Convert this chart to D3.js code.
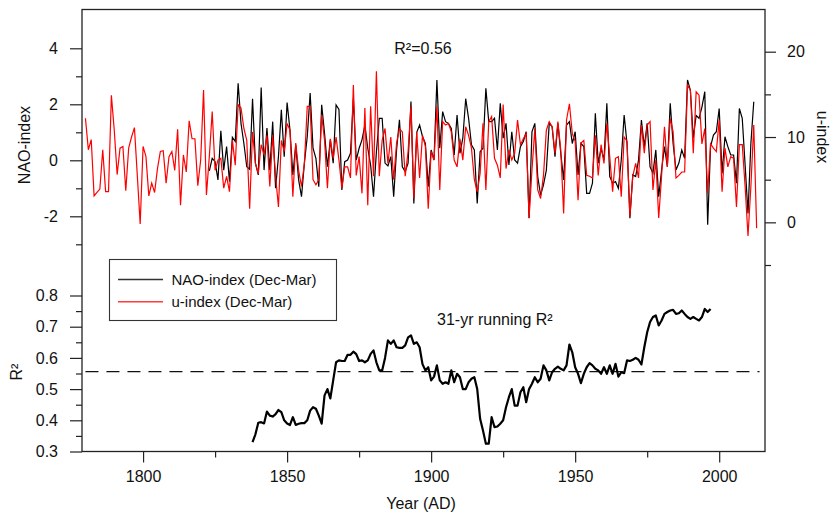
<!DOCTYPE html>
<html>
<head>
<meta charset="utf-8">
<script src="https://cdn.jsdelivr.net/npm/d3@7"></script>
<style>
  body { margin: 0; background: #fff; }
  svg text { font-family: "Liberation Sans", Arial, sans-serif; fill: #111; }
</style>
</head>
<body>
<div id="viz"></div>
<script>
// u-index (Dec-Mar), one value per year from 1780
const uStart = 1780;
const uValues = [
  12.2, 8.5, 9.7, 3.1, 3.5, 3.9, 8.5, 3.6, 3.6, 14.9,
  10.8, 5.6, 8.7, 8.9, 3.7, 8.7, 10.0, 11.1, 5.5, -0.2,
  8.9, 7.7, 3.1, 4.6, 3.5, 6.3, 8.3, 8.4, 4.6, 7.7,
  8.3, 6.1, 10.9, 2.0, 7.9, 5.9, 11.9, 9.8, 9.8, 4.3,
  7.3, 15.5, 3.2, 7.7, 13.0, 6.1, 7.3, 7.5, 4.0, 5.4,
  3.6, 9.6, 6.7, 13.8, 13.4, 11.0, 9.6, 1.6, 10.6, 6.9,
  5.7, 9.1, 7.9, 10.2, 4.2, 10.2, 5.4, 1.8, 9.6, 8.3,
  11.6, 10.8, 3.0, 9.3, 6.1, 4.2, 6.9, 13.6, 13.6, 5.0,
  4.4, 5.0, 12.6, 9.6, 4.0, 9.8, 7.5, 10.0, 7.3, 4.0,
  6.5, 6.5, 5.2, 16.1, 5.5, 7.7, 3.4, 13.4, 2.0, 13.6,
  5.4, 17.7, 5.4, 9.6, 11.0, 6.9, 10.0, 5.0, 9.3, 11.0,
  10.6, 5.4, 8.3, 13.6, 2.8, 10.6, 5.2, 10.2, 8.9, 1.6,
  8.3, 7.3, 13.6, 3.8, 11.8, 11.4, 11.6, 10.6, 7.3, 6.5,
  9.8, 7.3, 11.2, 10.2, 8.7, 5.0, 3.6, 5.7, 11.6, 3.8,
  11.8, 12.4, 7.5, 6.7, 5.2, 13.8, 6.3, 8.5, 7.3, 8.1,
  12.0, 9.1, 9.8, 10.4, 0.5, 6.1, 11.0, 3.8, 2.8, 5.5,
  10.8, 11.8, 11.2, 8.1, 11.8, 8.5, 1.05, 12.0, 13.9, 10.4,
  9.5, 2.6, 9.3, 9.6, 5.5, 5.4, 5.2, 10.2, 5.5, 9.1,
  6.9, 11.6, 7.7, 3.6, 7.5, 7.7, 3.0, 10.0, 9.5, 0.7,
  5.4, 6.9, 5.2, 11.4, 8.1, 11.4, 11.8, 3.8, 7.3, 0.5,
  5.4, 11.2, 6.5, 12.2, 10.6, 5.2, 5.5, 5.9, 5.9, 16.1,
  15.5, 8.1, 15.3, 14.9, 9.2, 11.0, 3.4, 9.2, 8.7, 8.3,
  12.0, 3.6, 8.7, 6.5, 7.7, 7.5, 1.8, 9.1, 9.1, 4.2,
  -1.6, 4.2, 11.4, -0.7
];

// NAO-index (Dec-Mar), one value per year from 1823
const naoStart = 1823;
const naoValues = [
  -0.38, 0.07, -0.05, -0.7, 1.05, -0.35, 0.49, -0.76, 0.82, 0.67,
  2.75, 1.32, 0.6, -0.23, -0.32, 2.2, -0.1, -0.52, 2.6, -0.35,
  1.15, -0.35, 1.38, -1.0, 0.13, 1.8, 0.13, 2.06, 1.08, -0.52,
  0.55, -0.7, -1.3, -0.1, 0.85, 2.4, 0.43, 0.07, -0.94, 1.98,
  0.96, -0.23, 0.73, -0.1, 1.98, 1.82, -1.06, -0.05, 0.01, 0.25,
  2.2, 0.01, 0.43, 0.73, 1.26, 0.43, -0.17, -1.3, 0.3, 1.5,
  1.5, -0.1, -0.2, 0.13, -1.3, 0.37, 1.45, -0.23, -0.4, -0.1,
  2.1, -1.54, 1.0, 1.26, 0.85, 0.6, -0.94, 0.37, 0.01, 2.87,
  0.43, 1.74, 1.38, 1.32, 1.14, 0.19, 1.62, 0.25, 0.79, 2.2,
  1.5, 0.55, 0.37, -1.54, 0.31, 0.43, 2.57, 1.38, 1.38, 1.5,
  0.37, 2.04, 0.79, 1.32, -0.17, 1.02, 0.01, -0.1, 0.49, 0.67,
  1.02, -2.07, 1.02, 1.32, -0.58, -1.24, -0.88, -0.35, 1.32, 1.2,
  0.13, 1.32, 0.25, -0.7, 1.26, 1.38, 0.6, 1.02, -0.52, 0.6,
  0.49, -1.18, -1.18, -0.82, 1.68, -0.1, 0.43, 0.01, 2.04, -0.58,
  -0.82, -0.76, -1.0, 0.01, 1.62, 0.6, -2.07, -0.52, -0.58, 0.01,
  1.44, 0.49, 1.32, -0.23, -0.46, 0.37, -1.3, -0.35, 0.49, -0.23,
  2.04, 0.6, -0.35, -0.1, 0.37, 0.07, 2.87, 2.5, 0.8, 1.6,
  1.5, 1.9, 2.45, -2.3, 0.49, 0.9, 1.02, 1.85, -0.47, 0.84,
  0.49, 0.19, 0.19, -0.82, 1.85, 1.5, -0.17, -1.9, 0.6, 2.09
];

// 31-yr running R2, centred years from 1838
const r2Start = 1838;
const r2Values = [
  0.33, 0.355, 0.392, 0.394, 0.39, 0.428, 0.415, 0.412, 0.42, 0.433,
  0.426, 0.40, 0.39, 0.385, 0.41, 0.385, 0.389, 0.391, 0.391, 0.40,
  0.431, 0.442, 0.437, 0.415, 0.389, 0.48, 0.50, 0.47, 0.528, 0.586,
  0.592, 0.59, 0.59, 0.61, 0.61, 0.62, 0.612, 0.59, 0.592, 0.586,
  0.592, 0.613, 0.624, 0.586, 0.56, 0.56, 0.60, 0.656, 0.645, 0.656,
  0.634, 0.632, 0.632, 0.64, 0.666, 0.672, 0.645, 0.65, 0.634, 0.58,
  0.56, 0.57, 0.528, 0.54, 0.576, 0.528, 0.517, 0.522, 0.517, 0.56,
  0.522, 0.549, 0.538, 0.50, 0.50, 0.522, 0.533, 0.538, 0.50, 0.405,
  0.367, 0.325, 0.325, 0.41, 0.378, 0.38, 0.389, 0.40, 0.442, 0.474,
  0.50, 0.447, 0.447, 0.49, 0.506, 0.458, 0.50, 0.517, 0.538, 0.522,
  0.533, 0.576, 0.56, 0.528, 0.554, 0.565, 0.572, 0.565, 0.56, 0.576,
  0.643, 0.618, 0.57, 0.549, 0.519, 0.549, 0.57, 0.583, 0.576, 0.565,
  0.56, 0.549, 0.57, 0.549, 0.576, 0.549, 0.581, 0.54, 0.554, 0.551,
  0.592, 0.59, 0.594, 0.60, 0.594, 0.579, 0.634, 0.682, 0.715, 0.731,
  0.736, 0.704, 0.72, 0.741, 0.747, 0.752, 0.754, 0.741, 0.743, 0.752,
  0.741, 0.731, 0.725, 0.731, 0.725, 0.72, 0.731, 0.757, 0.747, 0.757
];
const r2Whole = 0.556;

// tick labels
const yearTicks = [1800, 1850, 1900, 1950, 2000];
const yearMinor = [1825, 1875, 1925, 1975];
const naoTicks = [-2, 0, 2, 4];
const naoMinor = [-3, -1, 1, 3];
const uTicks = [0, 10, 20];
const uMinor = [-5, 5, 15];
const r2Ticks = [0.3, 0.4, 0.5, 0.6, 0.7, 0.8];
const r2Minor = [0.35, 0.45, 0.55, 0.65, 0.75];

const W = 834, H = 517;
const frame = { left: 82, right: 765, top: 9.5, bottom: 451.5 };

const svg = d3.select("#viz").append("svg")
  .attr("width", W).attr("height", H);

const x = d3.scaleLinear().domain([1778.8, 2015.9]).range([frame.left, frame.right]);
const yNao = d3.scaleLinear().domain([-3, 4]).range([244.3, 48.3]);
const yU = d3.scaleLinear().domain([-5, 20]).range([265, 51.7]);
const yR2 = d3.scaleLinear().domain([0.3, 0.8]).range([frame.bottom, 295.5]);

const toPts = (start, vals) => vals.map((v, i) => [start + i, v]);
const plain = d => String(d);   // hyphen minus like the original, not U+2212

// axes helper: ticks only, no domain path
const drawAxis = (axis, tx, ty, labels) => {
  const g = svg.append("g").attr("transform", `translate(${tx},${ty})`).call(axis);
  g.select(".domain").remove();
  g.selectAll("line").attr("stroke", "#222").attr("stroke-width", 1.2);
  g.selectAll("text").style("font-size", "16px")
    .style("font-family", '"Liberation Sans", Arial, sans-serif').attr("fill", "#111");
  if (!labels) g.selectAll("text").remove();
  return g;
};

drawAxis(d3.axisLeft(yNao).tickValues(naoTicks).tickSize(12).tickPadding(12).tickFormat(plain), frame.left, 0, true);
drawAxis(d3.axisLeft(yNao).tickValues(naoMinor).tickSize(6), frame.left, 0, false);
drawAxis(d3.axisRight(yU).tickValues(uTicks).tickSize(11).tickPadding(11).tickFormat(plain), frame.right, 0, true);
drawAxis(d3.axisRight(yU).tickValues(uMinor).tickSize(6), frame.right, 0, false);
drawAxis(d3.axisLeft(yR2).tickValues(r2Ticks).tickSize(12).tickPadding(12).tickFormat(d3.format(".1f")), frame.left, 0, true);
drawAxis(d3.axisLeft(yR2).tickValues(r2Minor).tickSize(6), frame.left, 0, false);
drawAxis(d3.axisBottom(x).tickValues(yearTicks).tickSize(11).tickPadding(8).tickFormat(plain), 0, frame.bottom, true);
drawAxis(d3.axisBottom(x).tickValues(yearMinor).tickSize(6), 0, frame.bottom, false);

// frame
svg.append("rect").attr("x", frame.left).attr("y", frame.top)
  .attr("width", frame.right - frame.left).attr("height", frame.bottom - frame.top)
  .attr("fill", "none").attr("stroke", "#222").attr("stroke-width", 1.3);

// top panel lines
const naoLine = d3.line().x(d => x(d[0])).y(d => yNao(d[1]));
const uLine = d3.line().x(d => x(d[0])).y(d => yU(d[1]));

svg.append("path").datum(toPts(naoStart, naoValues)).attr("d", naoLine)
  .attr("fill", "none").attr("stroke", "#000").attr("stroke-width", 1.2);
svg.append("path").datum(toPts(uStart, uValues)).attr("d", uLine)
  .attr("fill", "none").attr("stroke", "#ff0000").attr("stroke-width", 1.2);

// bottom panel
svg.append("line")
  .attr("x1", x(1780)).attr("x2", x(2014))
  .attr("y1", yR2(r2Whole)).attr("y2", yR2(r2Whole))
  .attr("stroke", "#111").attr("stroke-width", 1.2).attr("stroke-dasharray", "13,8");

const r2Line = d3.line().x(d => x(d[0])).y(d => yR2(d[1]));
svg.append("path").datum(toPts(r2Start, r2Values)).attr("d", r2Line)
  .attr("fill", "none").attr("stroke", "#000").attr("stroke-width", 2.2)
  .attr("stroke-linejoin", "round");

// legend
const lg = svg.append("g");
lg.append("rect").attr("x", 109.5).attr("y", 259.5).attr("width", 227).attr("height", 61)
  .attr("fill", "#fff").attr("stroke", "#333").attr("stroke-width", 1.1);
const legendItems = [["NAO-index (Dec-Mar)", "#333"], ["u-index (Dec-Mar)", "#ff3b3b"]];
legendItems.forEach((it, i) => {
  const yy = 279.5 + i * 22.3;
  lg.append("line").attr("x1", 118).attr("x2", 163).attr("y1", yy).attr("y2", yy)
    .attr("stroke", it[1]).attr("stroke-width", 1.4);
  lg.append("text").attr("x", 171.5).attr("y", yy + 5.5).style("font-size", "15px").text(it[0]);
});

// titles
const label = (txt, tx, ty, rot, size = 16, anchor = "middle") => svg.append("text")
  .attr("transform", `translate(${tx},${ty}) rotate(${rot})`)
  .attr("text-anchor", anchor).style("font-size", size + "px").text(txt);

label("NAO-index", 30, 145, -90);
label("u-index", 817, 137, 90);
label("R\u00b2", 22, 372, -90);
label("Year (AD)", 421, 509, 0);
label("R\u00b2=0.56", 423, 54, 0);
label("31-yr running R\u00b2", 437, 325, 0, 16, "start");
</script>
</body>
</html>
